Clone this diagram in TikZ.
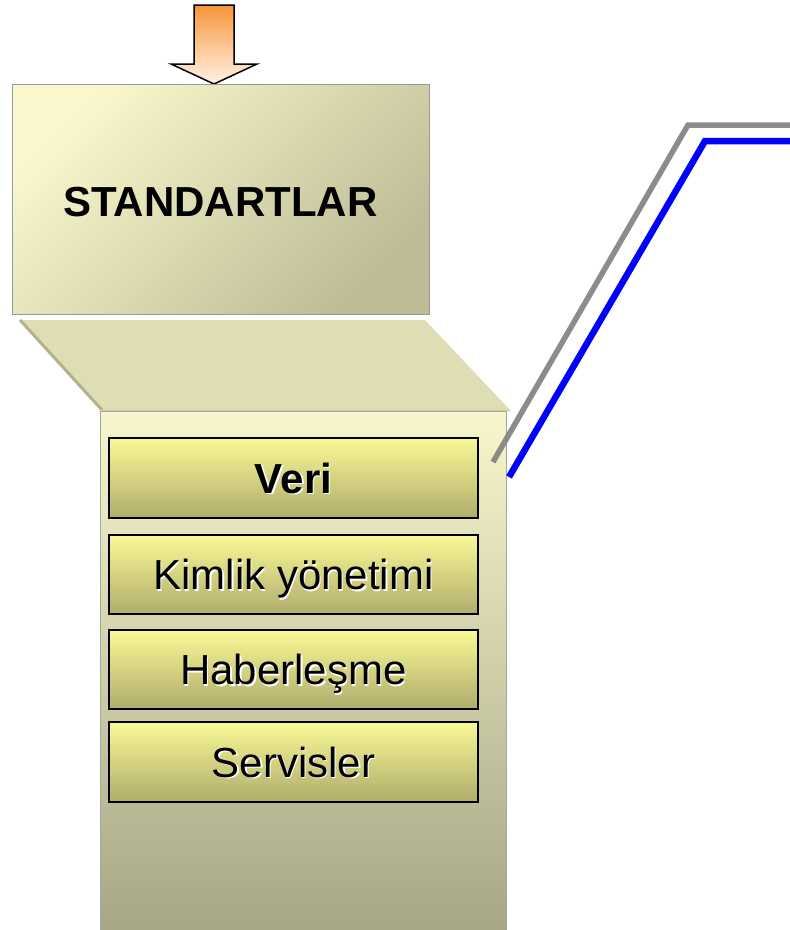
\documentclass[tikz,border=0pt]{standalone}
\usepackage{fontspec}
\setmainfont{Liberation Sans}
\definecolor{okust}{HTML}{F7963A}
\definecolor{okalt}{HTML}{FFF2E6}
\definecolor{kutuacik}{HTML}{F9F7CB}
\definecolor{kutukoyu}{HTML}{BEBC96}
\definecolor{tabla}{HTML}{DEDDB3}
\definecolor{tablakenar}{HTML}{B4B28A}
\definecolor{kolonust}{HTML}{F8F6CC}
\definecolor{kolonalt}{HTML}{A6A686}
\definecolor{katmanust}{HTML}{F9F996}
\definecolor{katmanalt}{HTML}{B0AC6C}
% white glow under layer texts
\newcommand{\golgeli}[1]{\makebox[0pt][l]{\hspace{1.5pt}\raisebox{-1.5pt}{\color{white}#1}}#1}
\begin{document}
\begin{tikzpicture}[x=1pt, y=-1pt, line join=miter,
    katman/.style={draw=black, line width=2pt, top color=katmanust, bottom color=katmanalt,
        minimum width=369pt, minimum height=80pt, inner sep=0pt, text depth=0pt,
        font=\fontsize{42}{42}\selectfont},
    baslik/.style={draw=gray!80, line width=1pt, top color=kutuacik, bottom color=kutukoyu, shading angle=45,
        minimum width=417pt, minimum height=230pt, inner sep=0pt, text height=34pt, text depth=0pt,
        font=\bfseries\fontsize{42}{42}\selectfont},
    kablo/.style={line width=#1, line cap=butt, line join=miter}]
    % Page and background
    \useasboundingbox (0,0) rectangle (790,930);
    \fill[white] (0,0) rectangle (790,930);

    % Input arrow above the standards box
    \path[draw=black, line width=1.5pt, top color=okust, bottom color=okalt]
        (194,5) -- (234,5) -- (234,64) -- (257,64) -- (214,84) -- (171,64) -- (194,64) -- cycle;

    % Standards box
    \node[baslik] (standartlar) at (220.5,199) {STANDARTLAR};

    % Slanted shelf between box and column
    \coordinate (T1) at (20,320);
    \coordinate (T2) at (425,320);
    \coordinate (T3) at (510,410);
    \coordinate (T4) at (102,410);
    \fill[tabla] (T1) -- (T2) -- (T3) -- (T4) -- cycle;
    \draw[tablakenar, line width=3pt] (T1) -- (T4);
    \draw[tablakenar!70, line width=1pt] (T4) -- (T3);

    % Column holding the layers
    \path[draw=gray!70, line width=1pt, top color=kolonust, bottom color=kolonalt]
        (100,411) rectangle (506,935);

    % Layers
    \node[katman, font=\bfseries\fontsize{42}{42}\selectfont] (veri) at (293.5,478) {\golgeli{Veri}};
    \node[katman, minimum height=79pt] (kimlik) at (293.5,574.5) {\golgeli{Kimlik yönetimi}};
    \node[katman, minimum height=79pt] (haberlesme) at (293.5,669.5) {\golgeli{Haberleşme}};
    \node[katman] (servisler) at (293.5,762) {\golgeli{Servisler}};

    % Cable lines leaving the column
    \coordinate (griBas) at (493,462);
    \coordinate (griKose) at (688,125);
    \coordinate (griSon) at (792,125);
    \coordinate (maviBas) at (509,477);
    \coordinate (maviKose) at (705,141);
    \coordinate (maviSon) at (792,141);
    \draw[kablo=5.5pt, gray, opacity=0.9] (griBas) -- (griKose) -- (griSon);
    \draw[kablo=6.5pt, blue] (maviBas) -- (maviKose) -- (maviSon);
\end{tikzpicture}
\end{document}
